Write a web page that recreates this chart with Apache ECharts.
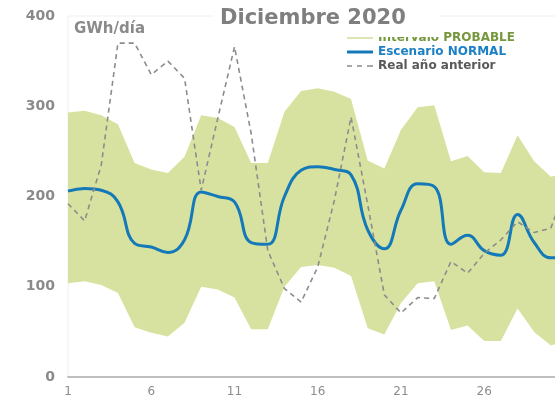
<!DOCTYPE html>
<html>
<head>
<meta charset="utf-8">
<script src="https://cdn.jsdelivr.net/npm/echarts@6/dist/echarts.min.js"></script>
<style>
html,body{margin:0;padding:0;background:#fff;}
#c{width:555px;height:402px;}
</style>
</head>
<body>
<div id="c"></div>
<script>
const days = ['1','2','3','4','5','6','7','8','9','10','11','12','13','14','15','16','17','18','19','20','21','22','23','24','25','26','27','28','29','30','31'];
const probLower = [104,106,102,93,55,49,45,60,100,97,88,53,53,100,122,124,121,112,54,47,82,104,106,52,57,40,40,76,50,35,40];
const probUpper = [293,295,290,280,237,230,226,244,290,287,277,237,237,294,317,320,316,308,240,231,274,299,301,239,245,227,226,268,239,222,226];
const normal = [206,209,207,194,148,144,138,152,205,200,194,149,147,200,229,233,230,224,163,142,185,214,211,147,157,140,135,180,149,132,134];
const realPrev = [192,173,235,370,370,335,350,331,207,287,366,270,140,98,83,122,196,288,191,91,71,88,87,128,115,137,152,172,160,165,215];
const yTicks = [0,100,200,300,400];

const bandHeight = probUpper.map((u, i) => u - probLower[i]);
const FONT = 'DejaVu Sans';

const chart = echarts.init(document.getElementById('c'), null, {renderer: 'canvas'});
chart.setOption({
  animation: false,
  backgroundColor: '#fff',
  title: {
    text: 'Diciembre 2020',
    left: 214,
    top: 0,
    padding: [8, 34, 8, 6],
    backgroundColor: '#fff',
    textStyle: {fontFamily: FONT, fontWeight: 'bold', fontSize: 21, color: '#7f7f7f', lineHeight: 21}
  },
  legend: {
    orient: 'vertical',
    left: 347,
    top: 32,
    padding: 0,
    itemWidth: 26,
    itemHeight: 14,
    itemGap: 2,
    selectedMode: false,
    textStyle: {fontFamily: FONT, fontWeight: 'bold', fontSize: 12},
    data: [
      {name: 'Intervalo PROBABLE', icon: 'path://M0,0H26V1.5H0Z',
       itemStyle: {color: '#d2dd98', borderWidth: 0}, textStyle: {color: '#77973d'}},
      {name: 'Escenario NORMAL', icon: 'path://M0,0H26V3H0Z',
       itemStyle: {color: '#1479b8', borderWidth: 0}, textStyle: {color: '#1d80c4'}},
      {name: 'Real año anterior', icon: 'path://M0,0H5V1.6H0ZM10,0H15V1.6H10ZM20,0H26V1.6H20Z',
       itemStyle: {color: '#8c8c8c', borderWidth: 0}, textStyle: {color: '#595959'}}
    ]
  },
  graphic: [{
    type: 'text', left: 74, top: 22,
    style: {text: 'GWh/día', fontFamily: FONT, fontWeight: 'bold', fontSize: 15, fill: '#8a8a8a'}
  }],
  grid: {left: 68, right: -12.5, top: 16, bottom: 25, containLabel: false, outerBoundsMode: 'none',
         show: true, borderColor: '#f0f0f0', borderWidth: 1, backgroundColor: 'transparent'},
  xAxis: {
    type: 'category',
    data: days,
    boundaryGap: false,
    axisLine: {lineStyle: {color: '#bfbfbf', width: 2}},
    axisTick: {show: false},
    axisLabel: {interval: 4, color: '#8c8c8c', fontFamily: FONT, fontSize: 12, margin: 9},
    splitLine: {show: false}
  },
  yAxis: {
    type: 'value',
    min: yTicks[0],
    max: yTicks[yTicks.length - 1],
    interval: 100,
    axisLine: {show: false},
    axisTick: {show: false},
    splitLine: {show: false},
    axisLabel: {color: '#8a8a8a', fontFamily: FONT, fontWeight: 'bold', fontSize: 14, margin: 13}
  },
  series: [
    {
      name: 'base', type: 'line', stack: 'band', data: probLower,
      symbol: 'none', lineStyle: {width: 0, opacity: 0}, silent: true
    },
    {
      name: 'Intervalo PROBABLE', type: 'line', stack: 'band', data: bandHeight,
      symbol: 'none', lineStyle: {width: 0, opacity: 0, color: '#d8e2a0'},
      itemStyle: {color: '#d8e2a0'},
      areaStyle: {color: '#d8e2a0', opacity: 1}
    },
    {
      name: 'Escenario NORMAL', type: 'line', data: normal, smooth: 0.45,
      symbol: 'none', lineStyle: {color: '#1479b8', width: 3},
      itemStyle: {color: '#1479b8'}
    },
    {
      name: 'Real año anterior', type: 'line', data: realPrev,
      symbol: 'none', lineStyle: {color: '#8c8c8c', width: 1.6, type: [5, 4]},
      itemStyle: {color: '#8c8c8c'}
    }
  ]
});
</script>
</body>
</html>
